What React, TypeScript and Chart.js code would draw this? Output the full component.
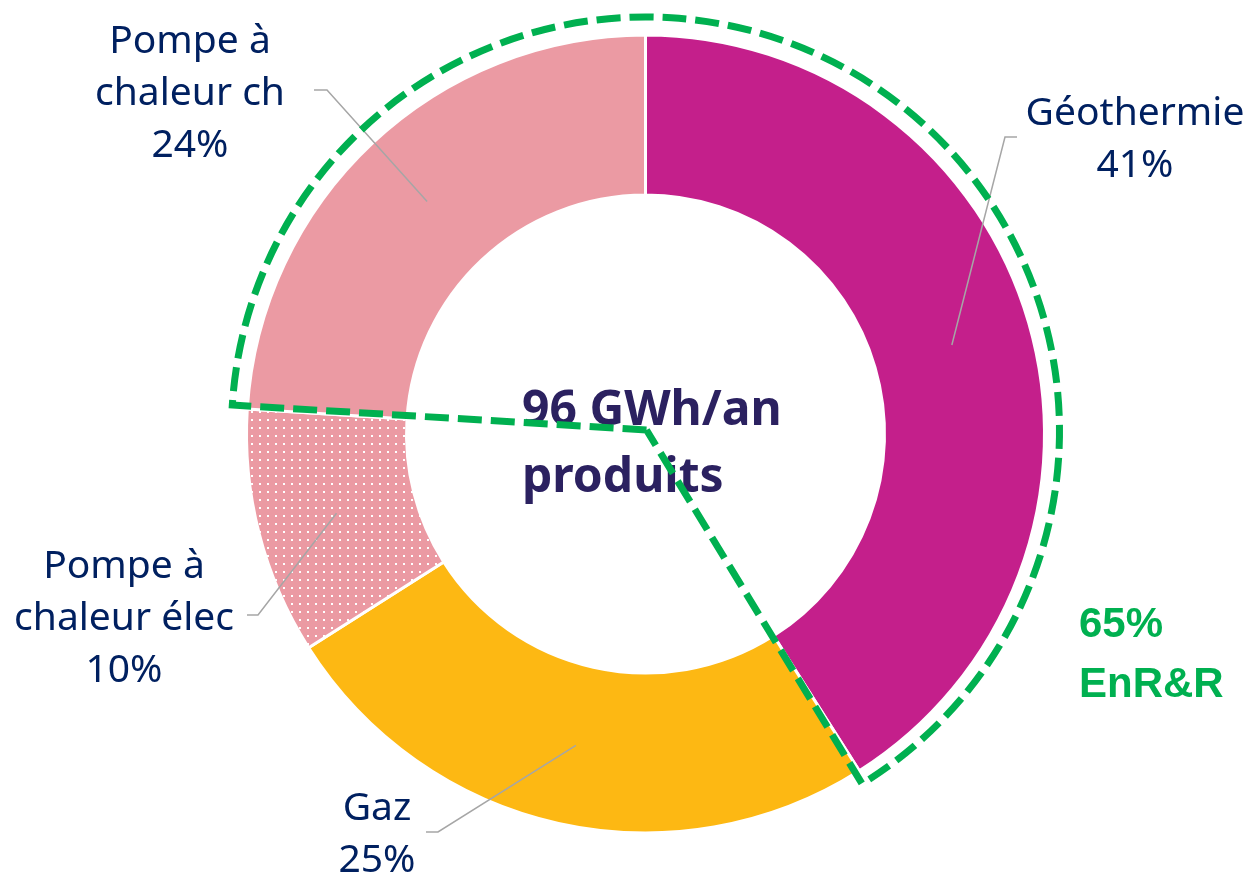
import React, { useEffect, useRef } from "react";
import { Chart, registerables } from "chart.js";

Chart.register(...registerables);

// ---- data ----
const categories = ["Géothermie", "Gaz", "Pompe à chaleur élec", "Pompe à chaleur ch"];
const shares = [41, 25, 10, 24];
const labelLines = [
  ["Géothermie", "41%"],
  ["Gaz", "25%"],
  ["Pompe à", "chaleur élec", "10%"],
  ["Pompe à", "chaleur ch", "24%"],
];
const renewableIdx = [3, 0]; // contiguous renewable slices (start, end) clockwise
const centerLines = ["96 GWh/an", "produits"];
const renewableLines = ["65%", "EnR&R"];

// ---- styles / layout ----
const sliceColors = ["#C41F8B", "#FDB813", "pattern", "#EB9AA3"];
const patternBase = "#EB9AA3";
const labelColor = "#002060";
const centerColor = "#2B2160";
const green = "#00B050";
const leaderColor = "#A6A6A6";

const labelLayout = [
  { elbow: [1005, 137], end: [1017, 137], x: 1135, y: 125 },
  { elbow: [438, 832], end: [426, 832], x: 377, y: 820 },
  { elbow: [258, 615], end: [247, 615], x: 124, y: 578 },
  { elbow: [327, 90], end: [314, 90], x: 190, y: 53 },
];
const lineGap = 52;

function makePattern(): CanvasPattern | string {
  const c = document.createElement("canvas");
  c.width = 8;
  c.height = 8;
  const x = c.getContext("2d");
  if (!x) return patternBase;
  x.fillStyle = patternBase;
  x.fillRect(0, 0, 8, 8);
  x.fillStyle = "#FFFFFF";
  x.fillRect(3, 3, 2, 2);
  return x.createPattern(c, "repeat") || patternBase;
}

const overlayPlugin = {
  id: "overlay",
  afterDraw(chart: any) {
    const ctx = chart.ctx as CanvasRenderingContext2D;
    const meta = chart.getDatasetMeta(0);
    const arcs = meta.data;
    if (!arcs.length) return;
    const cx = arcs[0].x;
    const cy = arcs[0].y;

    // leader lines + labels
    ctx.save();
    arcs.forEach((arc: any, i: number) => {
      const p = arc.getCenterPoint();
      const L = labelLayout[i];
      ctx.strokeStyle = leaderColor;
      ctx.lineWidth = 1.5;
      ctx.beginPath();
      ctx.moveTo(p.x, p.y);
      ctx.lineTo(L.elbow[0], L.elbow[1]);
      ctx.lineTo(L.end[0], L.end[1]);
      ctx.stroke();
      ctx.fillStyle = labelColor;
      ctx.font = '39px "Noto Sans"';
      ctx.textAlign = "center";
      ctx.textBaseline = "alphabetic";
      labelLines[i].forEach((t, k) => ctx.fillText(t, L.x, L.y + k * lineGap));
    });

    // center text
    ctx.fillStyle = centerColor;
    ctx.font = 'bold 48px "Noto Sans"';
    ctx.textAlign = "left";
    ctx.fillText(centerLines[0], 522, 425);
    ctx.fillText(centerLines[1], 522, 492);

    // renewable outline
    const a0 = arcs[renewableIdx[0]].startAngle;
    let a1 = arcs[renewableIdx[1]].endAngle + 0.015;
    while (a1 <= a0) a1 += Math.PI * 2;
    const ocx = cx;
    const ocy = cy - 3;
    const R = 414;
    ctx.strokeStyle = green;
    ctx.lineWidth = 7;
    ctx.setLineDash([24, 9]);
    ctx.beginPath();
    ctx.moveTo(cx + 1, cy - 4);
    ctx.lineTo(ocx + R * Math.cos(a0), ocy + R * Math.sin(a0));
    ctx.arc(ocx, ocy, R, a0, a1, false);
    ctx.lineTo(cx + 1, cy - 4);
    ctx.stroke();
    ctx.setLineDash([]);

    // renewable share text
    ctx.fillStyle = green;
    ctx.font = 'bold 42px "Liberation Sans"';
    ctx.textAlign = "left";
    ctx.fillText(renewableLines[0], 1079, 637);
    ctx.fillText(renewableLines[1], 1079, 697);
    ctx.restore();
  },
};

export default function App() {
  const ref = useRef<HTMLCanvasElement | null>(null);
  useEffect(() => {
    if (!ref.current) return;
    const pattern = makePattern();
    const chart = new Chart(ref.current, {
      type: "doughnut",
      data: {
        labels: categories,
        datasets: [
          {
            data: shares,
            backgroundColor: sliceColors.map((c) => (c === "pattern" ? pattern : c)) as any,
            borderColor: "#FFFFFF",
            borderWidth: 3,
            hoverOffset: 0,
          },
        ],
      },
      options: {
        responsive: false,
        animation: false,
        radius: 399,
        cutout: "59.9%",
        layout: { padding: { left: 42, right: 0, top: 0, bottom: 8 } },
        plugins: { legend: { display: false }, tooltip: { enabled: false } },
        events: [],
      } as any,
      plugins: [overlayPlugin],
    });
    return () => chart.destroy();
  }, []);
  return (
    <div style={{ position: "fixed", left: 0, top: 0, width: 1249, height: 876, background: "#fff" }}>
      <canvas ref={ref} width={1249} height={876} style={{ display: "block" }} />
    </div>
  );
}
